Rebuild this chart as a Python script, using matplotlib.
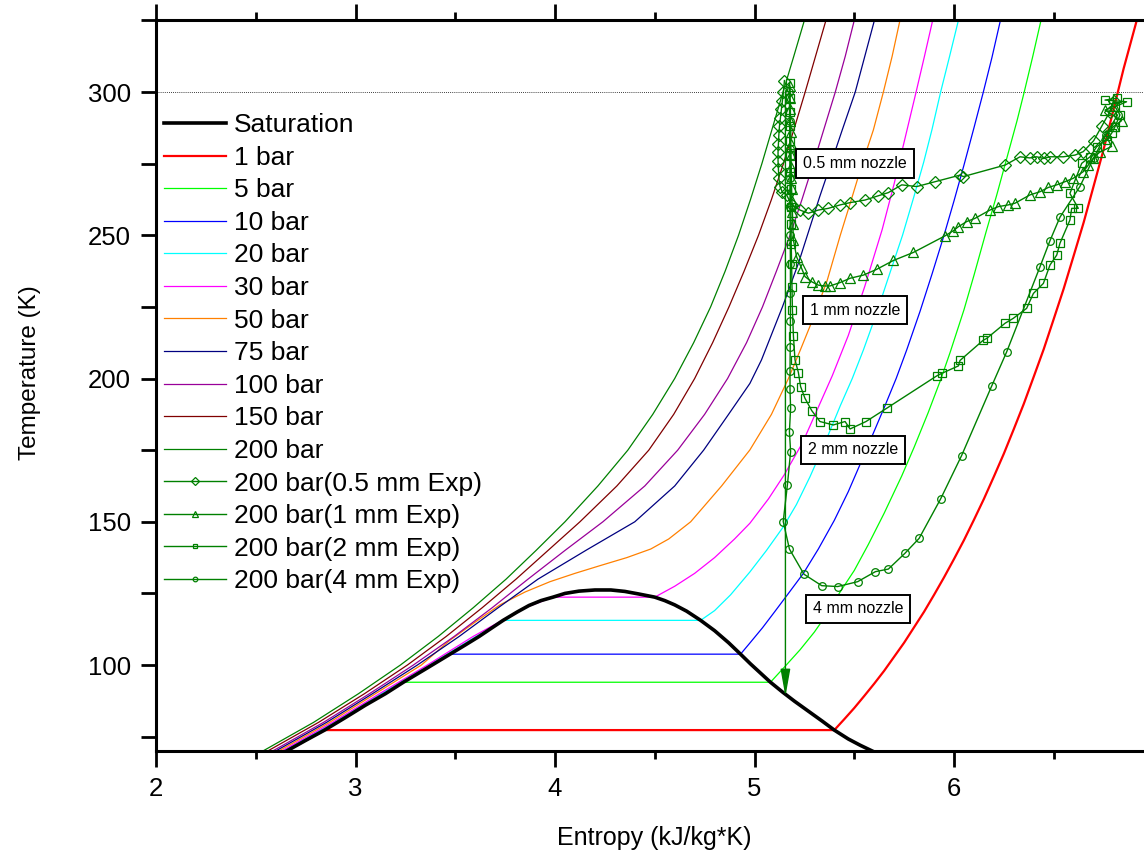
import matplotlib
matplotlib.use('Agg')
import matplotlib.pyplot as plt
from matplotlib.ticker import MultipleLocator

plt.rcParams['font.family'] = ['Liberation Sans', 'DejaVu Sans']

# saturation dome (s in kJ/kg*K, T in K)
sat_s = [2.655, 2.75, 2.845, 2.95, 3.05, 3.15, 3.24, 3.36, 3.474, 3.55, 3.62, 3.68, 3.74, 3.81, 3.87, 3.93, 3.99,
         4.05, 4.12, 4.20, 4.28, 4.35, 4.42, 4.50, 4.55, 4.60, 4.66, 4.73, 4.80, 4.87, 4.93, 4.98, 5.03, 5.08,
         5.14, 5.20, 5.27, 5.34, 5.40, 5.47, 5.53, 5.59]
sat_T = [70, 73.7, 77.3, 81.7, 86, 90, 94, 99, 103.8, 107, 110, 112.8, 115.6, 118.5, 120.8, 122.5, 123.7,
         125, 125.8, 126.2, 126.2, 125.7, 124.8, 123.7, 122.5, 121, 118.8, 115.6, 112, 107.8, 103.8, 100.4, 97.2, 94,
         90.6, 87.4, 83.9, 80.4, 77.3, 74.2, 72, 70]

# isobars
p1_s = [2.655, 2.845, 5.40, 5.45, 5.50, 5.55, 5.60, 5.65, 5.70, 5.75, 5.80, 5.85, 5.90, 5.95, 6.00, 6.05, 6.10,
        6.15, 6.20, 6.25, 6.30, 6.35, 6.40, 6.45, 6.50, 6.55, 6.60, 6.65, 6.70, 6.75, 6.80, 6.85, 6.916]
p1_T = [70, 77.3, 77.3, 81.1, 85.0, 89.2, 93.5, 98.0, 102.9, 107.8, 113.2, 118.6, 124.5, 130.6, 137.0, 143.6, 150.7,
        158.0, 165.8, 173.8, 182.4, 191.2, 200.7, 210.3, 220.8, 231.4, 242.9, 254.5, 267.2, 280, 294.0, 308.1, 325]

p5_s = [2.65, 2.905, 3.145, 3.24, 5.08, 5.15, 5.228, 5.30, 5.36, 5.429, 5.50, 5.57, 5.65, 5.738, 5.80, 5.87, 5.93,
        5.98, 6.05, 6.10, 6.16, 6.214, 6.265, 6.316, 6.352, 6.395, 6.436]
p5_T = [70, 80, 90, 94, 94, 99.3, 105.3, 111.5, 117.5, 125.5, 133, 142, 153, 166, 176, 188, 199,
        209, 224, 236, 251, 264, 277, 290, 300, 312.5, 325]

p10_s = [2.645, 2.90, 3.14, 3.385, 3.474, 4.93, 4.977, 5.04, 5.10, 5.17, 5.245, 5.32, 5.40, 5.47, 5.529, 5.59,
         5.654, 5.71, 5.763, 5.83, 5.89, 5.95, 6.00, 6.05, 6.10, 6.147, 6.19, 6.231]
p10_T = [70, 80, 90, 100, 103.8, 103.8, 107.7, 113, 118.5, 125, 132, 140.5, 150.5, 160.5, 170, 180,
         190.5, 200, 210, 223.5, 236.5, 250, 262, 274.5, 287.5, 300, 312, 324.5]

p20_s = [2.64, 2.895, 3.13, 3.37, 3.605, 3.74, 4.73, 4.80, 4.88, 4.977, 5.06, 5.145, 5.21, 5.278, 5.35, 5.43, 5.49,
         5.546, 5.608, 5.667, 5.742, 5.797, 5.848, 5.89, 5.933, 5.978, 6.022]
p20_T = [70, 80, 90, 100, 110, 115.6, 115.6, 119, 124.5, 132.5, 140, 148.3, 156, 165.7, 177, 190.5, 200,
         210, 222, 234.4, 250, 263, 275.5, 287, 300, 312.5, 325]

p30_s = [2.63, 2.885, 3.12, 3.36, 3.59, 3.85, 3.99, 4.50, 4.55, 4.60, 4.70, 4.80, 4.90, 4.977, 5.07, 5.15, 5.24,
         5.32, 5.39, 5.47, 5.552, 5.64, 5.70, 5.755, 5.81, 5.852, 5.893]
p30_T = [70, 80, 90, 100, 110, 120, 123.7, 123.7, 125.6, 127.5, 132, 137.5, 144, 149.5, 158, 166.5, 177.5,
         190, 201, 215, 232, 252, 268, 284, 300, 312.5, 325]

p50_s = [2.615, 2.87, 3.10, 3.33, 3.474, 3.60, 3.724, 3.85, 3.975, 4.10, 4.226, 4.36, 4.48, 4.57, 4.68, 4.835,
         4.977, 5.085, 5.17, 5.23, 5.30, 5.365, 5.43, 5.49, 5.54, 5.596, 5.646, 5.69, 5.729]
p50_T = [70, 80, 90, 100, 108.7, 115, 121, 125.5, 129.1, 132, 134.7, 137.5, 140.5, 144, 150, 162.5,
         175.1, 187.5, 200, 210, 222, 234.4, 250, 263.5, 275, 286.8, 300, 312.5, 325]

p75_s = [2.60, 2.855, 3.085, 3.31, 3.52, 3.715, 3.915, 4.159, 4.40, 4.60, 4.745, 4.87, 4.977, 5.035, 5.14, 5.22,
         5.265, 5.327, 5.383, 5.44, 5.505, 5.553, 5.601]
p75_T = [70, 80, 90, 100, 110, 120, 130, 140.2, 150, 162.5, 175, 187.5, 198.3, 206.5, 225, 240.2,
         250, 263.5, 275, 286.8, 300, 312.5, 325]

p100_s = [2.585, 2.84, 3.07, 3.29, 3.495, 3.685, 3.865, 4.05, 4.24, 4.45, 4.615, 4.75, 4.865, 4.96, 5.04, 5.11,
          5.178, 5.238, 5.295, 5.35, 5.405, 5.455, 5.50]
p100_T = [70, 80, 90, 100, 110, 120, 130, 140, 150, 162.5, 175, 187.5, 200, 212.5, 225, 237.5,
          250, 262.5, 275, 287.5, 300, 312.5, 325]

p150_s = [2.56, 2.815, 3.045, 3.26, 3.455, 3.635, 3.805, 3.965, 4.125, 4.31, 4.47, 4.595, 4.70, 4.79, 4.872, 4.948,
          5.02, 5.085, 5.145, 5.20, 5.254, 5.306, 5.358]
p150_T = [70, 80, 90, 100, 110, 120, 130, 140, 150, 162.5, 175, 187.5, 200, 212.5, 225, 237.5,
          250, 262.5, 275, 287.5, 300, 312.5, 325]

p200_s = [2.536, 2.79, 3.015, 3.225, 3.415, 3.59, 3.755, 3.905, 4.05, 4.215, 4.365, 4.49, 4.60, 4.695, 4.78, 4.853,
          4.92, 4.98, 5.037, 5.09, 5.143, 5.197, 5.25]
p200_T = [70, 80, 90, 100, 110, 120, 130, 140, 150, 162.5, 175, 187.5, 200, 212.5, 225, 237.5,
          250, 262.5, 275, 287.5, 300, 312.5, 325]

isobar_labels = ['1 bar', '5 bar', '10 bar', '20 bar', '30 bar', '50 bar', '75 bar', '100 bar', '150 bar', '200 bar']
isobar_colors = ['#ff0000', '#00ff00', '#0000ff', '#00ffff', '#ff00ff', '#ff8000', '#000080', '#990099', '#800000', '#008000']

# experiments at 200 bar
e05_s = [5.150, 5.145, 5.140, 5.135, 5.130, 5.125, 5.122, 5.120, 5.118, 5.118, 5.120, 5.122, 5.128, 5.140,
         5.161, 5.186, 5.228, 5.270, 5.320, 5.370, 5.429, 5.479, 5.554, 5.621, 5.671, 5.738, 5.813, 5.905,
         6.030, 6.047, 6.256, 6.331, 6.380, 6.414, 6.450, 6.481, 6.548, 6.607, 6.648, 6.700, 6.740, 6.780, 6.800]
e05_T = [304, 300, 297, 294, 291, 288, 285, 282, 279, 276, 273, 270, 267, 265,
         264.1, 260.6, 258.8, 257.7, 258.8, 259.4, 260.6, 261.4, 262.3, 263.8, 264.9, 267.6, 267.0, 268.7,
         271.0, 270.5, 274.5, 277.4, 277.0, 277.4, 276.8, 277.4, 277.4, 278.0, 279.2, 283, 288, 293, 297]

e1_s = [5.178, 5.178, 5.180, 5.180, 5.182, 5.182, 5.183, 5.184, 5.185, 5.186, 5.188, 5.190, 5.192, 5.195,
        5.211, 5.236, 5.253, 5.286, 5.320, 5.353, 5.378, 5.429, 5.479, 5.546, 5.612, 5.696, 5.796, 5.955,
        5.997, 6.022, 6.064, 6.105, 6.180, 6.222, 6.272, 6.306, 6.381, 6.431, 6.473, 6.515, 6.556, 6.598,
        6.648, 6.673, 6.698, 6.730, 6.790, 6.760, 6.800, 6.840, 6.757, 6.800]
e1_T = [302, 298, 294, 290, 286, 282, 278, 274, 270, 266, 262, 258, 254, 248.4,
        242.5, 238.5, 235.6, 233.8, 232.6, 232.3, 232.3, 233.5, 235.0, 236.1, 238.1, 241.2, 244.0, 249.8,
        251.6, 253.0, 254.8, 255.9, 258.8, 260.0, 260.6, 261.2, 264.1, 265.2, 266.7, 267.6, 268.7, 269.9,
        272.2, 274.5, 276.9, 279, 281, 285, 288, 290, 293.7, 295]

e2_s = [5.176, 5.177, 5.178, 5.178, 5.179, 5.180, 5.180, 5.181, 5.182, 5.183, 5.184, 5.186, 5.188, 5.190,
        5.195, 5.203, 5.220, 5.231, 5.253, 5.287, 5.328, 5.395, 5.454, 5.479, 5.559, 5.662, 5.913, 5.938,
        6.022, 6.030, 6.147, 6.164, 6.256, 6.297, 6.364, 6.398, 6.448, 6.481, 6.515, 6.531, 6.581, 6.590,
        6.623, 6.581, 6.640, 6.682, 6.715, 6.765, 6.790, 6.807, 6.832, 6.807, 6.865, 6.757, 6.815]
e2_T = [303, 298, 293, 288, 283, 278, 272, 266, 260, 254, 247, 240, 232, 224,
        215, 206.5, 202.1, 197.2, 193.1, 188.8, 185.0, 183.8, 185.0, 182.4, 185.0, 189.6, 200.9, 201.8,
        204.4, 206.3, 213.4, 214.0, 219.3, 221.0, 224.5, 229.7, 233.2, 239.6, 243.1, 247.2, 255.3, 259.4,
        259.4, 264.6, 275.1, 277.4, 280.9, 283.2, 285.6, 287.9, 292.0, 294.9, 296.6, 297.2, 297.8]

e4_s = [5.175, 5.176, 5.177, 5.178, 5.178, 5.179, 5.180, 5.180, 5.180, 5.179, 5.178, 5.178, 5.181, 5.175,
        5.181, 5.165, 5.144, 5.175, 5.248, 5.337, 5.417, 5.517, 5.606, 5.671, 5.754, 5.825, 5.933, 6.038,
        6.189, 6.264, 6.431, 6.481, 6.531, 6.631, 6.700, 6.760, 6.820]
e4_T = [300, 290, 280, 270, 260, 250, 240, 230, 220, 211, 202.8, 196.2, 189.6, 181.5,
        174.5, 162.9, 150.1, 140.5, 131.7, 127.7, 127.4, 129.1, 132.6, 133.5, 139.0, 144.2, 158.0, 173.1,
        197.4, 209.3, 239.0, 248.1, 256.3, 267.0, 277, 285, 292]

exp_labels = ['200 bar(0.5 mm Exp)', '200 bar(1 mm Exp)', '200 bar(2 mm Exp)', '200 bar(4 mm Exp)']
exp_markers = ['D', '^', 's', 'o']
exp_sizes = [6.5, 7, 5.5, 5.5]

# isentropic expansion arrow
isen_s = [5.155, 5.155]
isen_T = [300, 89]

nozzle_labels = ['0.5 mm nozzle', '1 mm nozzle', '2 mm nozzle', '4 mm nozzle']
nozzle_s = [5.504, 5.504, 5.494, 5.519]
nozzle_T = [275.1, 223.9, 175.1, 119.6]

green = '#008000'

fig = plt.figure(figsize=(11.44, 8.55), dpi=100)
ax = fig.add_axes([156 / 1144, 104 / 855, 997.5 / 1144, 730.6 / 855])

isobar_s = [p1_s, p5_s, p10_s, p20_s, p30_s, p50_s, p75_s, p100_s, p150_s, p200_s]
isobar_T = [p1_T, p5_T, p10_T, p20_T, p30_T, p50_T, p75_T, p100_T, p150_T, p200_T]

handles = []
for s, T, lab, c in zip(isobar_s, isobar_T, isobar_labels, isobar_colors):
    lw = 1.6 if lab == '1 bar' else 0.9
    h, = ax.plot(s, T, color=c, lw=lw, label=lab, zorder=2)
    handles.append(h)

hs, = ax.plot(sat_s, sat_T, color='black', lw=2.6, label='Saturation', zorder=3)
handles.insert(0, hs)

ax.axhline(300, color='black', lw=0.6, ls=(0, (1, 1.5)), zorder=1)

ax.annotate('', xy=(isen_s[1], isen_T[1]), xytext=(isen_s[0], isen_T[0]),
            arrowprops=dict(arrowstyle='-|>,head_length=1.4,head_width=0.25', color=green, lw=1.0,
                            mutation_scale=12, shrinkA=0, shrinkB=0), zorder=4)

for s, T, lab, m, ms in zip([e05_s, e1_s, e2_s, e4_s], [e05_T, e1_T, e2_T, e4_T], exp_labels, exp_markers, exp_sizes):
    h, = ax.plot(s, T, color=green, lw=1.0, marker=m, ms=ms, mfc='none', mec=green, mew=0.9, label=lab, zorder=5)
    handles.append(h)

for lab, s, T in zip(nozzle_labels, nozzle_s, nozzle_T):
    ax.text(s, T, lab, fontsize=11.5, ha='center', va='center', zorder=6,
            bbox=dict(boxstyle='square,pad=0.42', fc='white', ec='black', lw=1.4))

ax.set_xlim(2, 7)
ax.set_ylim(70, 325)
ax.xaxis.set_major_locator(MultipleLocator(1))
ax.xaxis.set_minor_locator(MultipleLocator(0.5))
ax.yaxis.set_minor_locator(MultipleLocator(25))
ax.set_yticks([100, 150, 200, 250, 300])
ax.tick_params(axis='both', which='both', direction='out', width=2.0, labelsize=18.5)
ax.tick_params(axis='x', which='major', length=11.5, top=True, pad=7)
ax.tick_params(axis='x', which='minor', length=6, top=True)
ax.tick_params(axis='y', which='both', length=11, pad=7)
for sp in ax.spines.values():
    sp.set_linewidth(2.2)

fig.text(654 / 1144, 1 - 838 / 855, 'Entropy (kJ/kg*K)', fontsize=18, ha='center', va='center')
fig.text(30 / 1144, 1 - 373 / 855, 'Temperature (K)', fontsize=17.5, ha='center', va='center', rotation=90)

ax.legend(handles=handles, loc='upper left', bbox_to_anchor=(0.008, 0.873), frameon=False, fontsize=19,
          handlelength=2.35, handletextpad=0.3, labelspacing=0.325, borderaxespad=0, borderpad=0, markerscale=0.6)

fig.savefig('out.png', dpi=100)
